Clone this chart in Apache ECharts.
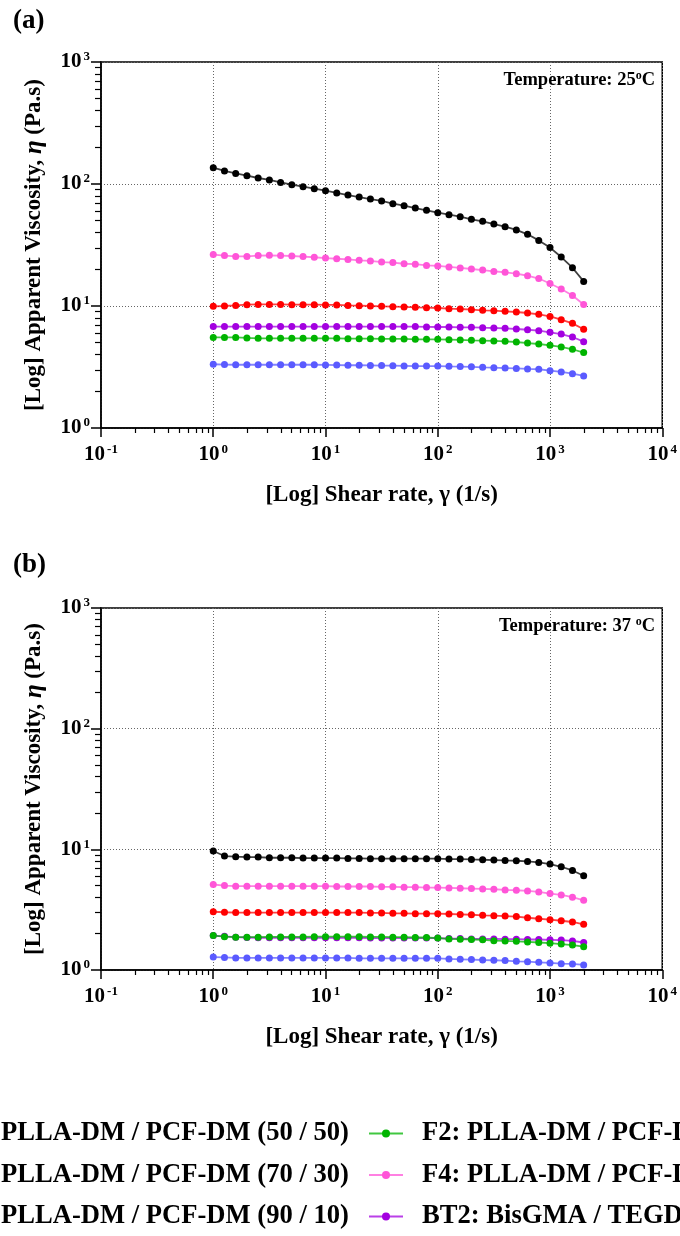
<!DOCTYPE html>
<html>
<head>
<meta charset="utf-8">
<script src="https://cdn.jsdelivr.net/npm/echarts@6/dist/echarts.min.js"></script>
<style>
  html, body { margin: 0; padding: 0; background: #fff; }
  #chart { width: 680px; height: 1236px; }
</style>
</head>
<body>
<div id="chart"></div>
<script>
// Shear rates (1/s), ten points per decade
const shearRate = [1, 1.259, 1.585, 1.995, 2.512, 3.162, 3.981, 5.012, 6.31, 7.943,
  10, 12.59, 15.85, 19.95, 25.12, 31.62, 39.81, 50.12, 63.1, 79.43,
  100, 125.9, 158.5, 199.5, 251.2, 316.2, 398.1, 501.2, 631, 794.3,
  1000, 1259, 1585, 1995];

// Apparent viscosity (Pa.s) at 25 °C
const f1At25 = [3.33, 3.31, 3.30, 3.30, 3.30, 3.30, 3.30, 3.30, 3.30, 3.30,
  3.29, 3.28, 3.27, 3.27, 3.26, 3.25, 3.24, 3.23, 3.22, 3.22,
  3.22, 3.20, 3.19, 3.17, 3.14, 3.12, 3.10, 3.08, 3.05, 3.03,
  2.95, 2.88, 2.79, 2.67];
const f2At25 = [5.53, 5.53, 5.53, 5.47, 5.43, 5.43, 5.43, 5.43, 5.43, 5.43,
  5.43, 5.43, 5.40, 5.40, 5.40, 5.37, 5.37, 5.37, 5.33, 5.33,
  5.33, 5.30, 5.27, 5.23, 5.20, 5.17, 5.13, 5.07, 4.97, 4.88,
  4.76, 4.62, 4.42, 4.15];
const f3At25 = [9.94, 10.0, 10.1, 10.25, 10.3, 10.3, 10.3, 10.25, 10.25, 10.25,
  10.2, 10.2, 10.1, 10.06, 10.0, 9.94, 9.88, 9.82, 9.75, 9.69,
  9.63, 9.51, 9.45, 9.33, 9.21, 9.15, 9.04, 8.93, 8.76, 8.54,
  8.22, 7.72, 7.21, 6.44];
const f4At25 = [26.4, 25.9, 25.5, 25.5, 25.9, 26.0, 25.9, 25.7, 25.4, 25.1,
  24.7, 24.4, 24.1, 23.7, 23.4, 22.9, 22.7, 22.2, 22.0, 21.5,
  21.3, 20.9, 20.5, 20.1, 19.7, 19.2, 18.9, 18.4, 17.7, 16.8,
  15.3, 13.8, 12.2, 10.3];
const f5At25 = [136, 128, 122, 117, 112, 108, 103, 98.8, 95, 91.6,
  88.1, 84.4, 81.2, 78.2, 75.3, 72.6, 69.0, 66.4, 63.5, 60.8,
  58.2, 56.1, 54.0, 51.3, 49.4, 47.0, 44.7, 42.0, 38.7, 34.5,
  30.1, 25.2, 20.6, 15.9];
const bt2At25 = [6.78, 6.78, 6.78, 6.78, 6.78, 6.78, 6.78, 6.78, 6.78, 6.78,
  6.78, 6.78, 6.78, 6.78, 6.78, 6.78, 6.78, 6.78, 6.78, 6.74,
  6.73, 6.73, 6.69, 6.69, 6.64, 6.60, 6.56, 6.48, 6.39, 6.28,
  6.08, 5.89, 5.57, 5.10];

// Apparent viscosity (Pa.s) at 37 °C
const f1At37 = [1.28, 1.27, 1.26, 1.26, 1.26, 1.26, 1.26, 1.26, 1.26, 1.26,
  1.26, 1.26, 1.26, 1.25, 1.25, 1.25, 1.25, 1.25, 1.25, 1.25,
  1.25, 1.235, 1.227, 1.219, 1.21, 1.204, 1.196, 1.181, 1.173, 1.158,
  1.144, 1.129, 1.122, 1.101];
const f2At37 = [1.93, 1.89, 1.87, 1.87, 1.87, 1.88, 1.88, 1.88, 1.88, 1.89,
  1.89, 1.89, 1.89, 1.89, 1.88, 1.88, 1.87, 1.87, 1.86, 1.86,
  1.84, 1.81, 1.80, 1.79, 1.78, 1.75, 1.74, 1.73, 1.71, 1.69,
  1.67, 1.64, 1.61, 1.56];
const f3At37 = [3.04, 3.01, 2.99, 2.99, 2.99, 2.99, 2.99, 2.99, 2.99, 2.99,
  2.99, 2.99, 2.99, 2.99, 2.97, 2.97, 2.95, 2.95, 2.93, 2.93,
  2.93, 2.91, 2.89, 2.87, 2.84, 2.82, 2.80, 2.77, 2.71, 2.66,
  2.61, 2.56, 2.50, 2.39];
const f4At37 = [5.11, 5.01, 4.95, 4.95, 4.95, 4.95, 4.95, 4.95, 4.95, 4.95,
  4.95, 4.92, 4.92, 4.92, 4.92, 4.89, 4.89, 4.86, 4.86, 4.82,
  4.82, 4.79, 4.76, 4.73, 4.70, 4.67, 4.61, 4.58, 4.52, 4.44,
  4.30, 4.19, 4.01, 3.78];
const f5At37 = [9.68, 8.80, 8.69, 8.63, 8.63, 8.52, 8.52, 8.52, 8.47, 8.47,
  8.47, 8.47, 8.41, 8.41, 8.36, 8.36, 8.36, 8.36, 8.36, 8.36,
  8.36, 8.31, 8.31, 8.25, 8.20, 8.15, 8.09, 8.04, 7.94, 7.79,
  7.55, 7.17, 6.68, 6.04];
const bt2At37 = [1.93, 1.90, 1.87, 1.86, 1.85, 1.85, 1.85, 1.85, 1.85, 1.85,
  1.85, 1.85, 1.85, 1.85, 1.84, 1.84, 1.84, 1.84, 1.84, 1.84,
  1.84, 1.82, 1.82, 1.81, 1.81, 1.81, 1.80, 1.80, 1.79, 1.79,
  1.78, 1.77, 1.74, 1.69];

// Series names and colours
const names = {
  f1: 'F1: PLLA-DM / PCF-DM (50 / 50)',
  f2: 'F2: PLLA-DM / PCF-DM (60 / 40)',
  f3: 'F3: PLLA-DM / PCF-DM (70 / 30)',
  f4: 'F4: PLLA-DM / PCF-DM (80 / 20)',
  f5: 'F5: PLLA-DM / PCF-DM (90 / 10)',
  bt2: 'BT2: BisGMA / TEGDMA (50 / 50)'
};
const colors = { f1: '#5a5aff', f2: '#00b400', f3: '#ff0000', f4: '#ff55d8', f5: '#000000', bt2: '#a300e0' };

// Minor tick positions (2..9 within each decade)
function minorTicks(lo, hi) {
  const out = [];
  for (let d = lo; d < hi; d *= 10) {
    for (let k = 2; k <= 9; k++) out.push(+(d * k).toPrecision(3));
  }
  return out;
}
const xMinor = minorTicks(0.1, 10000);
const yMinor = minorTicks(1, 1000);

const FONT = '"Liberation Serif", "Times New Roman", serif';

const powRich = {
  b: { fontFamily: FONT, fontWeight: 'bold', fontSize: 21, color: '#000' },
  s: { fontFamily: FONT, fontWeight: 'bold', fontSize: 13, color: '#000', verticalAlign: 'bottom', padding: [0, 0, 10, 2] }
};
function powLabel(v) {
  const e = Math.round(Math.log10(v));
  return '{b|10}{s|' + e + '}';
}

const grids = [
  { left: 101, width: 564, top: 62, height: 366 },
  { left: 101, width: 564, top: 608, height: 362 }
];

const xAxes = [], yAxes = [];
grids.forEach((g, gi) => {
  xAxes.push({
    type: 'log', logBase: 10, gridIndex: gi, min: 0.1, max: 10000,
    name: '[Log] Shear rate, γ (1/s)', nameLocation: 'middle', nameGap: 56,
    nameTextStyle: { fontFamily: FONT, fontWeight: 'bold', fontSize: 23, color: '#000' },
    axisLine: { show: true, lineStyle: { color: '#000', width: 1.5 } },
    axisTick: { show: true, length: 9, lineStyle: { color: '#000', width: 1.5 } },
    axisLabel: { margin: 15, formatter: powLabel, rich: powRich },
    splitLine: { show: true, lineStyle: { color: '#666', width: 1, type: [1, 2] } }
  });
  xAxes.push({
    type: 'log', logBase: 10, gridIndex: gi, min: 0.1, max: 10000, position: 'bottom',
    axisLine: { show: false },
    axisTick: { show: true, length: 5, customValues: xMinor, lineStyle: { color: '#000', width: 1.2 } },
    axisLabel: { show: false },
    splitLine: { show: false }
  });
  yAxes.push({
    type: 'log', logBase: 10, gridIndex: gi, min: 1, max: 1000,
    name: '{t|[Log] Apparent Viscosity, }{i|η}{t| (Pa.s)}', nameLocation: 'middle', nameGap: 54, nameRotate: 90,
    nameTextStyle: {
      rich: {
        t: { fontFamily: FONT, fontWeight: 'bold', fontSize: 23, color: '#000' },
        i: { fontFamily: FONT, fontWeight: 'bold', fontStyle: 'italic', fontSize: 25, color: '#000' }
      }
    },
    axisLine: { show: true, lineStyle: { color: '#000', width: 1.5 } },
    axisTick: { show: true, length: 10, lineStyle: { color: '#000', width: 1.5 } },
    axisLabel: { margin: 11, formatter: powLabel, rich: powRich },
    splitLine: { show: true, lineStyle: { color: '#666', width: 1, type: [1, 2] } }
  });
  yAxes.push({
    type: 'log', logBase: 10, gridIndex: gi, min: 1, max: 1000, position: 'left',
    axisLine: { show: false },
    axisTick: { show: true, length: 6, customValues: yMinor, lineStyle: { color: '#000', width: 1.2 } },
    axisLabel: { show: false },
    splitLine: { show: false }
  });
});

function curve(key, values, gi) {
  return {
    type: 'line', name: names[key],
    xAxisIndex: gi * 2, yAxisIndex: gi * 2,
    data: shearRate.map((r, i) => [r, values[i]]),
    symbol: 'circle', symbolSize: 7,
    itemStyle: { color: colors[key] },
    lineStyle: { color: colors[key], width: 1.8, opacity: 0.75 },
    emphasis: { disabled: true },
    animation: false
  };
}

const series = [
  curve('f5', f5At25, 0), curve('f4', f4At25, 0), curve('f3', f3At25, 0),
  curve('bt2', bt2At25, 0), curve('f2', f2At25, 0), curve('f1', f1At25, 0),
  curve('f5', f5At37, 1), curve('f4', f4At37, 1), curve('f3', f3At37, 1),
  curve('bt2', bt2At37, 1), curve('f2', f2At37, 1), curve('f1', f1At37, 1)
];

const legendText = { fontFamily: FONT, fontWeight: 'bold', fontSize: 26.6, color: '#000', padding: [0, 0, 0, 14] };
const tempRich = {
  t: { fontFamily: FONT, fontWeight: 'bold', fontSize: 18.5, color: '#000' },
  o: { fontFamily: FONT, fontWeight: 'bold', fontSize: 12, color: '#000', verticalAlign: 'bottom', padding: [0, 0, 9, 0] }
};

const option = {
  backgroundColor: '#fff',
  animation: false,
  grid: grids.map(g => Object.assign({ show: true, borderColor: '#000', borderWidth: 1.5, backgroundColor: 'transparent' }, g)),
  title: [
    { text: '(a)', left: 8, top: 3, textStyle: { fontFamily: FONT, fontWeight: 'bold', fontSize: 27, color: '#000' } },
    { text: '(b)', left: 8, top: 547, textStyle: { fontFamily: FONT, fontWeight: 'bold', fontSize: 27, color: '#000' } },
    { text: '{t|Temperature: 25}{o|o}{t|C}', right: 20, top: 65, textStyle: { rich: tempRich } },
    { text: '{t|Temperature: 37 }{o|o}{t|C}', right: 20, top: 611, textStyle: { rich: tempRich } }
  ],
  legend: [
    {
      data: [names.f1, names.f3, names.f5], orient: 'vertical', left: -103, top: 1115,
      itemWidth: 34, itemHeight: 10, itemGap: 14.5, textStyle: legendText, selectedMode: false
    },
    {
      data: [names.f2, names.f4, names.bt2], orient: 'vertical', left: 363, top: 1115,
      itemWidth: 34, itemHeight: 10, itemGap: 14.5, textStyle: legendText, selectedMode: false
    }
  ],
  xAxis: xAxes,
  yAxis: yAxes,
  series: series
};

const chart = echarts.init(document.getElementById('chart'), null, { renderer: 'canvas' });
chart.setOption(option);
</script>
</body>
</html>
